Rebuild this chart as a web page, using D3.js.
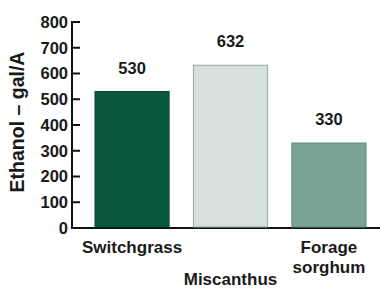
<!DOCTYPE html>
<html>
<head>
<meta charset="utf-8">
<script src="https://cdn.jsdelivr.net/npm/d3@7"></script>
<style>
  body { margin: 0; background: #fff; }
  text { font-family: "Liberation Sans", Arial, sans-serif; font-weight: bold; fill: #1a1a1a; }
</style>
</head>
<body>
<div id="chart"></div>
<script>
// data
var crops = ['Switchgrass', 'Miscanthus', 'Forage sorghum'];
var ethanol = [530, 632, 330];
var yTicks = [0, 100, 200, 300, 400, 500, 600, 700, 800];
var barColors = ['#0b5a3f', '#d6e1dd', '#7aa596'];
var barStroke = ['#084530', '#9aa8a2', '#5f8a7b'];

var svgWidth = 380;
var svgHeight = 289;

var margins = { top: 22, bottom: 61, right: 0, left: 72 };
var height = svgHeight - margins.top - margins.bottom;
var width = svgWidth - margins.left - margins.right;

var svg = d3.select('#chart')
    .append('svg')
    .attr('width', svgWidth)
    .attr('height', svgHeight);

var chartGroup = svg.append('g')
    .attr('transform', `translate(${margins.left}, ${margins.top})`);

// scales
var xBandScale = d3.scaleBand()
    .domain(crops)
    .range([23, 294])
    .paddingInner(0.247)
    .paddingOuter(0);

var yLinearScale = d3.scaleLinear()
    .domain([0, 800])
    .range([height, 0]);

// y axis, labels only (ticks drawn inward below)
var leftAxis = d3.axisLeft(yLinearScale)
    .tickValues(yTicks)
    .tickSize(0)
    .tickPadding(4);

var yAxisG = chartGroup.append('g').call(leftAxis);
yAxisG.select('.domain').remove();
yAxisG.selectAll('.tick text')
    .style('font-size', '16.5px')
    .style('font-family', '"Liberation Sans", Arial, sans-serif')
    .style('font-weight', 'bold')
    .attr('fill', '#1a1a1a');

// inward tick marks
chartGroup.selectAll('line.tick')
    .data(yTicks)
    .enter()
    .append('line')
    .attr('class', 'tick')
    .attr('x1', 0)
    .attr('x2', 8)
    .attr('y1', d => yLinearScale(d))
    .attr('y2', d => yLinearScale(d))
    .attr('stroke', '#111')
    .attr('stroke-width', 2);

// axis lines
chartGroup.append('line')
    .attr('x1', 0).attr('x2', 0)
    .attr('y1', yLinearScale(800) - 1)
    .attr('y2', yLinearScale(0) + 1)
    .attr('stroke', '#111')
    .attr('stroke-width', 2);

chartGroup.append('line')
    .attr('x1', -1)
    .attr('x2', width)
    .attr('y1', yLinearScale(0))
    .attr('y2', yLinearScale(0))
    .attr('stroke', '#111')
    .attr('stroke-width', 2);

// bars
chartGroup.selectAll('rect.bar')
    .data(ethanol)
    .enter()
    .append('rect')
    .attr('class', 'bar')
    .attr('x', (d, i) => xBandScale(crops[i]))
    .attr('y', d => yLinearScale(d))
    .attr('width', xBandScale.bandwidth())
    .attr('height', d => yLinearScale(0) - yLinearScale(d) - 1)
    .attr('fill', (d, i) => barColors[i])
    .attr('stroke', (d, i) => barStroke[i])
    .attr('stroke-width', 1);

// value labels
chartGroup.selectAll('text.value')
    .data(ethanol)
    .enter()
    .append('text')
    .attr('class', 'value')
    .attr('x', (d, i) => xBandScale(crops[i]) + xBandScale.bandwidth() / 2)
    .attr('y', d => yLinearScale(d) - 18)
    .attr('text-anchor', 'middle')
    .style('font-size', '16.5px')
    .text(d => d);

// category labels (staggered like the original)
var catLines = [['Switchgrass'], ['Miscanthus'], ['Forage', 'sorghum']];
var catY = [25, 57, 25];

catLines.forEach(function(lines, i) {
    var cx = xBandScale(crops[i]) + xBandScale.bandwidth() / 2;
    var t = chartGroup.append('text')
        .attr('x', cx)
        .attr('y', height + catY[i])
        .attr('text-anchor', 'middle')
        .style('font-size', '17px');
    lines.forEach(function(s, j) {
        t.append('tspan')
            .attr('x', cx)
            .attr('dy', j === 0 ? 0 : 20)
            .text(s);
    });
});

// y title
svg.append('text')
    .attr('transform', `translate(24, 122) rotate(-90)`)
    .attr('text-anchor', 'middle')
    .style('font-size', '19.5px')
    .text('Ethanol – gal/A');
</script>
</body>
</html>
